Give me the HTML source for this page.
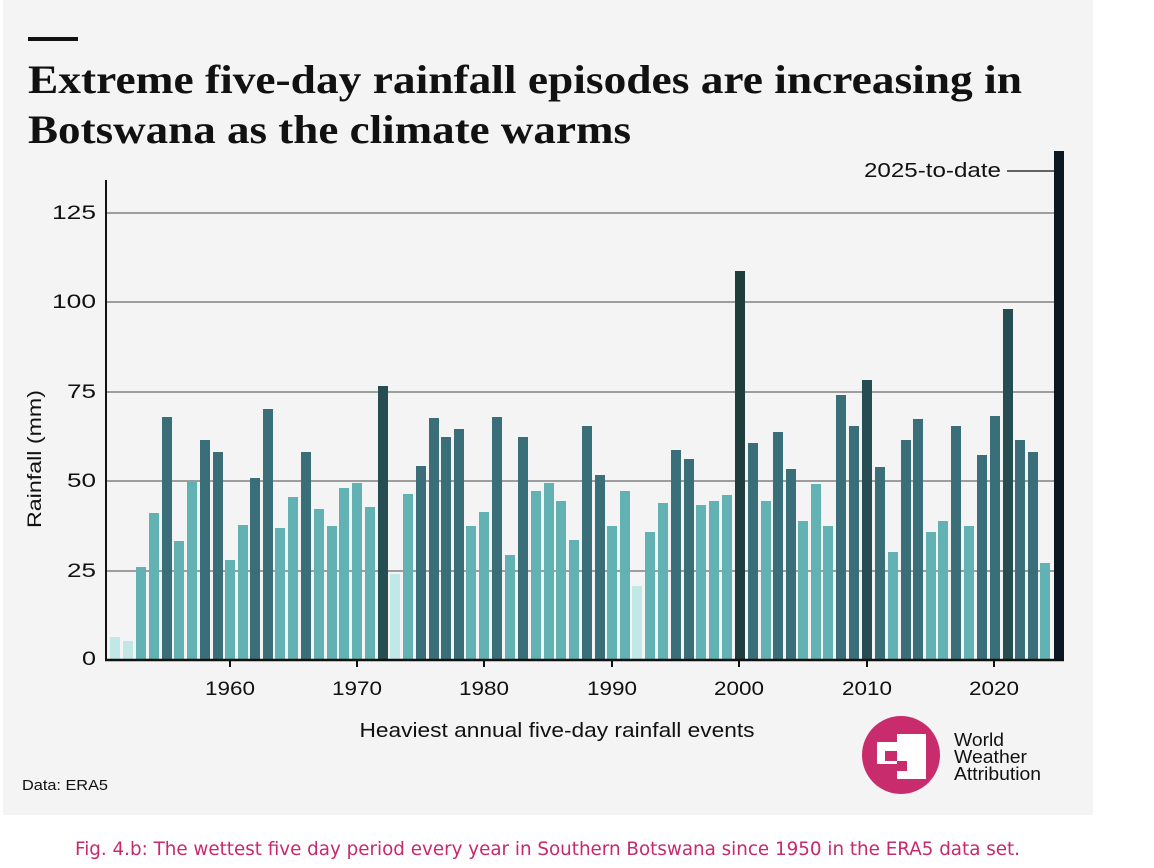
<!DOCTYPE html>
<html><head><meta charset="utf-8"><style>
html,body{margin:0;padding:0;background:#fff;width:1154px;height:868px;overflow:hidden}
svg{display:block}
</style></head><body>
<svg width="1154" height="868" viewBox="0 0 1154 868" xmlns="http://www.w3.org/2000/svg">
<rect x="3" y="0" width="1090" height="815" fill="#f4f4f4"/>
<rect x="28" y="37" width="50" height="4" fill="#111"/>
<text x="28" y="93" font-family="Liberation Serif, serif" font-weight="bold" font-size="40" fill="#111" textLength="994" lengthAdjust="spacingAndGlyphs">Extreme five-day rainfall episodes are increasing in</text>
<text x="28" y="143" font-family="Liberation Serif, serif" font-weight="bold" font-size="40" fill="#111" textLength="603" lengthAdjust="spacingAndGlyphs">Botswana as the climate warms</text>
<g stroke="#808080" stroke-width="1.5">
<line x1="106" x2="1063" y1="213" y2="213"/>
<line x1="106" x2="1063" y1="302" y2="302"/>
<line x1="106" x2="1063" y1="392" y2="392"/>
<line x1="106" x2="1063" y1="481" y2="481"/>
<line x1="106" x2="1063" y1="571" y2="571"/>
</g>
<g font-family="Liberation Sans, sans-serif" font-size="19" fill="#111" text-anchor="end">
<text x="96" y="219" textLength="44" lengthAdjust="spacingAndGlyphs">125</text><text x="96" y="308" textLength="44" lengthAdjust="spacingAndGlyphs">100</text><text x="96" y="398" textLength="29" lengthAdjust="spacingAndGlyphs">75</text><text x="96" y="487" textLength="29" lengthAdjust="spacingAndGlyphs">50</text><text x="96" y="577" textLength="29" lengthAdjust="spacingAndGlyphs">25</text><text x="96" y="665" textLength="14" lengthAdjust="spacingAndGlyphs">0</text>
</g>
<text transform="translate(41,459) rotate(-90)" font-family="Liberation Sans, sans-serif" font-size="19" fill="#111" text-anchor="middle" textLength="138" lengthAdjust="spacingAndGlyphs">Rainfall (mm)</text>
<g id="bars"></g>
<line x1="106" y1="180" x2="106" y2="661" stroke="#111" stroke-width="2"/>
<line x1="105" y1="660" x2="1064" y2="660" stroke="#111" stroke-width="2.5"/>
<g stroke="#111" stroke-width="2">
<line x1="230" x2="230" y1="660" y2="667"/><line x1="357" x2="357" y1="660" y2="667"/><line x1="484" x2="484" y1="660" y2="667"/><line x1="612" x2="612" y1="660" y2="667"/><line x1="739" x2="739" y1="660" y2="667"/><line x1="867" x2="867" y1="660" y2="667"/><line x1="994" x2="994" y1="660" y2="667"/>
</g>
<g font-family="Liberation Sans, sans-serif" font-size="19" fill="#111" text-anchor="middle">
<text x="230" y="695" textLength="50" lengthAdjust="spacingAndGlyphs">1960</text><text x="357" y="695" textLength="50" lengthAdjust="spacingAndGlyphs">1970</text><text x="484" y="695" textLength="50" lengthAdjust="spacingAndGlyphs">1980</text><text x="612" y="695" textLength="50" lengthAdjust="spacingAndGlyphs">1990</text><text x="739" y="695" textLength="50" lengthAdjust="spacingAndGlyphs">2000</text><text x="867" y="695" textLength="50" lengthAdjust="spacingAndGlyphs">2010</text><text x="994" y="695" textLength="50" lengthAdjust="spacingAndGlyphs">2020</text>
<text x="557" y="737" font-size="20" textLength="395" lengthAdjust="spacingAndGlyphs">Heaviest annual five-day rainfall events</text>
</g>
<text x="864" y="177" font-family="Liberation Sans, sans-serif" font-size="20" fill="#111" textLength="137" lengthAdjust="spacingAndGlyphs">2025-to-date</text>
<line x1="1007" y1="171" x2="1054" y2="171" stroke="#333" stroke-width="1.5"/>
<text x="22" y="790" font-family="Liberation Sans, sans-serif" font-size="15" fill="#111" textLength="86" lengthAdjust="spacingAndGlyphs">Data: ERA5</text>
<circle cx="901" cy="755" r="39" fill="#c92c6d"/>
<rect x="877" y="742" width="22" height="22" fill="#fff"/>
<rect x="897" y="734" width="29" height="45" fill="#fff"/>
<rect x="885" y="751" width="12" height="10" fill="#c92c6d"/>
<rect x="897" y="761" width="10" height="10" fill="#c92c6d"/>
<g font-family="Liberation Sans, sans-serif" font-size="18" fill="#111">
<text x="954" y="746" textLength="50" lengthAdjust="spacingAndGlyphs">World</text><text x="954" y="763" textLength="73" lengthAdjust="spacingAndGlyphs">Weather</text><text x="954" y="780" textLength="87" lengthAdjust="spacingAndGlyphs">Attribution</text>
</g>
<text x="75" y="855" font-family="DejaVu Sans, sans-serif" font-size="19" fill="#c8286e" textLength="945" lengthAdjust="spacingAndGlyphs">Fig. 4.b: The wettest five day period every year in Southern Botswana since 1950 in the ERA5 data set.</text>
</svg>
<script>
var d=[[110,637,0],[123,641,0],[136,567,1],[149,513,1],[162,417,2],[174,541,1],[187,482,1],[200,440,2],[213,452,2],[225,560,1],[238,525,1],[250,478,2],[263,409,2],[275,528,1],[288,497,1],[301,452,2],[314,509,1],[327,526,1],[339,488,1],[352,483,1],[365,507,1],[378,386,3],[390,574,0],[403,494,1],[416,466,2],[429,418,2],[441,437,2],[454,429,2],[466,526,1],[479,512,1],[492,417,2],[505,555,1],[518,437,2],[531,491,1],[544,483,1],[556,501,1],[569,540,1],[582,426,2],[595,475,2],[607,526,1],[620,491,1],[632,586,0],[645,532,1],[658,503,1],[671,450,2],[684,459,2],[696,505,1],[709,501,1],[722,495,1],[735,271,4],[748,443,2],[761,501,1],[773,432,2],[786,469,2],[798,521,1],[811,484,1],[823,526,1],[836,395,2],[849,426,2],[862,380,3],[875,467,2],[888,552,1],[901,440,2],[913,419,2],[926,532,1],[938,521,1],[951,426,2],[964,526,1],[977,455,2],[990,416,2],[1003,309,3],[1015,440,2],[1028,452,2],[1040,563,1],[1054,151,5]];
var c=["#c2e7e7","#62b1b3","#3a6e78","#264d52","#1f3d3d","#0b1821"];
var g=document.getElementById("bars"),s="";
d.forEach(function(b){s+='<rect x="'+b[0]+'" y="'+b[1]+'" width="10" height="'+(660-b[1])+'" fill="'+c[b[2]]+'"/>';});
g.innerHTML=s;
</script>
</body></html>
